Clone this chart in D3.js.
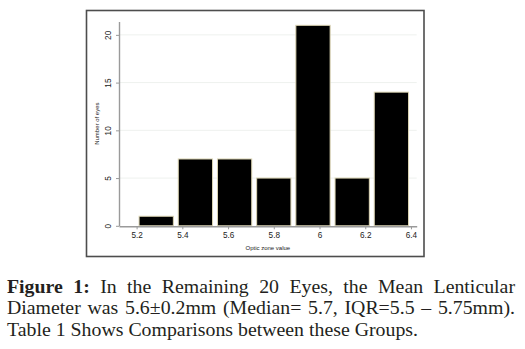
<!DOCTYPE html>
<html>
<head>
<meta charset="utf-8">
<script src="https://cdn.jsdelivr.net/npm/d3@7"></script>
<style>
  html, body { margin: 0; padding: 0; background: #fff; }
  svg { display: block; }
</style>
</head>
<body>
<svg id="chart" width="525" height="349"></svg>
<script>
// Histogram of optic zone values (7 equal bins from 5.2 to 6.4)
const binStart = 5.2;
const binEnd = 6.4;
const binCounts = [1, 7, 7, 5, 21, 5, 14];
const xTicks = [5.2, 5.4, 5.6, 5.8, 6, 6.2, 6.4];
const yTicks = [0, 5, 10, 15, 20];
const xTitle = "Optic zone value";
const yTitle = "Number of eyes";
const captionBold = "Figure 1:";
const captionLines = [
  " In the Remaining 20 Eyes, the Mean Lenticular",
  "Diameter was 5.6\u00b10.2mm (Median= 5.7, IQR=5.5 \u2013 5.75mm).",
  "Table 1 Shows Comparisons between these Groups."
];

const svg = d3.select("#chart");

// Outer figure frame
svg.append("rect")
  .attr("x", 86.5).attr("y", 10.5)
  .attr("width", 337.5).attr("height", 246)
  .attr("fill", "#fff").attr("stroke", "#4d4d4d").attr("stroke-width", 1.6);

const x = d3.scaleLinear().domain([5.123, 6.425]).range([119, 416.7]);
const y = d3.scaleLinear().domain([0, 21.4]).range([225.8, 21.5]);

const binW = (binEnd - binStart) / binCounts.length;
const bins = binCounts.map((c, i) => ({ x0: binStart + i * binW, x1: binStart + (i + 1) * binW, count: c }));

// faint horizontal grid
svg.append("g").selectAll("line")
  .data(yTicks.filter(d => d > 0))
  .join("line")
  .attr("x1", x.range()[0] + 1).attr("x2", x.range()[1])
  .attr("y1", d => y(d)).attr("y2", d => y(d))
  .attr("stroke", "#eef1ee").attr("stroke-width", 1);

// bars (90% of bin width, centred in each bin)
svg.append("g").selectAll("rect")
  .data(bins)
  .join("rect")
  .attr("x", d => x(d.x0) + (x(d.x1) - x(d.x0)) * 0.05 + 0.5)
  .attr("width", d => (x(d.x1) - x(d.x0)) * 0.9 - 1)
  .attr("y", d => y(d.count))
  .attr("height", d => y(0) - y(d.count))
  .attr("fill", "#000")
  .attr("stroke", "#dcd5b4")
  .attr("stroke-width", 1);

// x axis
const xAxis = svg.append("g")
  .attr("transform", `translate(0,${y(0) + 0.5})`)
  .call(d3.axisBottom(x).tickValues(xTicks).tickFormat(d3.format("")).tickSize(3).tickSizeOuter(0));
xAxis.select(".domain").attr("stroke", "#9a9a9a").attr("stroke-width", 1.4);
xAxis.selectAll(".tick line").attr("stroke", "#9a9a9a");
xAxis.selectAll(".tick text")
  .attr("y", 6).attr("dy", "0.71em")
  .attr("font-family", "Liberation Sans, Arial, sans-serif")
  .attr("font-size", 8.2).attr("fill", "#222");

// y axis
const yAxis = svg.append("g")
  .attr("transform", `translate(${x.range()[0]},0)`)
  .call(d3.axisLeft(y).tickValues(yTicks).tickSize(3).tickSizeOuter(0));
yAxis.select(".domain").attr("stroke", "#9a9a9a").attr("stroke-width", 1.4);
yAxis.selectAll(".tick line").attr("stroke", "#9a9a9a");
yAxis.selectAll(".tick text")
  .attr("x", 0).attr("dy", 0)
  .attr("transform", "translate(-8,0) rotate(-90)")
  .attr("text-anchor", "middle")
  .attr("font-family", "Liberation Sans, Arial, sans-serif")
  .attr("font-size", 8.2).attr("fill", "#222");

// axis titles
svg.append("text")
  .attr("x", (x.range()[0] + x.range()[1]) / 2).attr("y", 250)
  .attr("text-anchor", "middle")
  .attr("font-family", "Liberation Sans, Arial, sans-serif")
  .attr("font-size", 6).attr("fill", "#222")
  .text(xTitle);
svg.append("text")
  .attr("transform", `translate(99,${(y.range()[0] + y.range()[1]) / 2}) rotate(-90)`)
  .attr("text-anchor", "middle")
  .attr("font-family", "Liberation Sans, Arial, sans-serif")
  .attr("font-size", 6).attr("fill", "#222")
  .text(yTitle);

// caption, justified to the column width; the last line sets the horizontal scale
const capLeft = 7, capRight = 515, lastLineRight = 418;
const capFont = "Liberation Serif, Times New Roman, serif";
const capSize = 18.6;
const baselines = [292.7, 314.5, 336];

const cap = svg.append("g");
const texts = captionLines.map((line, i) => {
  const t = cap.append("text")
    .attr("x", 0).attr("y", baselines[i])
    .attr("font-family", capFont).attr("font-size", capSize)
    .attr("fill", "#231f20")
    .attr("xml:space", "preserve");
  if (i === 0) t.append("tspan").attr("font-weight", "bold").text(captionBold);
  t.append("tspan").text(line);
  return t;
});
const lastW = texts[texts.length - 1].node().getComputedTextLength();
const sx = (lastLineRight - capLeft) / lastW;
cap.attr("transform", `translate(${capLeft},0) scale(${sx},1)`);
texts.slice(0, -1).forEach((t, i) => {
  const natural = t.node().getComputedTextLength();
  const spaces = ((i === 0 ? captionBold : "") + captionLines[i]).split(" ").length - 1;
  t.attr("word-spacing", ((capRight - capLeft) / sx - natural) / spaces);
});
</script>
</body>
</html>
